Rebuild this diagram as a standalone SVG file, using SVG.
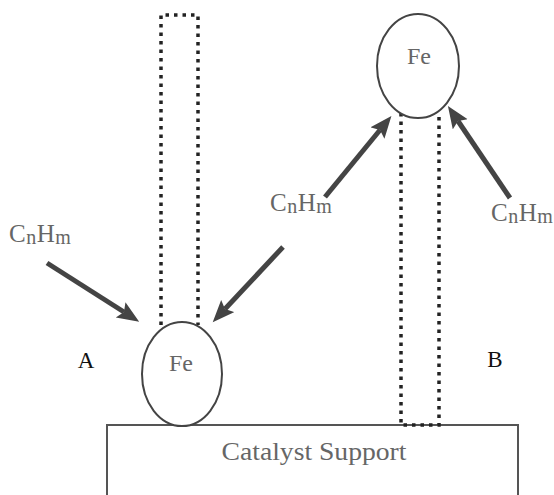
<svg xmlns="http://www.w3.org/2000/svg" width="554" height="495" viewBox="0 0 554 495">
<defs>
<style>
.tube{fill:none;stroke:#222;stroke-width:3.5;stroke-dasharray:3.5 5}
.fe{fill:#fff;stroke:#444;stroke-width:2}
.arrow{fill:none;stroke:#444;stroke-width:5;marker-end:url(#head)}
.lbl{font-family:"Liberation Serif","Times New Roman",serif;fill:#666}
.ab{font-family:"Liberation Serif","Times New Roman",serif;fill:#111;font-size:23px}
.sup{fill:none;stroke:#555;stroke-width:2}
</style>
<marker id="head" markerUnits="userSpaceOnUse" markerWidth="24" markerHeight="20" refX="4" refY="9" orient="auto">
<path d="M0,0 L22,9 L0,18 L4,9 z" fill="#444"/>
</marker>
</defs>
<g id="support">
<rect class="sup" x="107" y="425" width="411" height="90"/>
<text class="lbl" x="314" y="460" font-size="25" text-anchor="middle" textLength="185" lengthAdjust="spacingAndGlyphs">Catalyst Support</text>
</g>
<g id="tubeA">
<path class="tube" d="M161,325 V15 H198 V325"/>
</g>
<g id="tubeB">
<path class="tube" d="M401,113 V425 H439 V113"/>
</g>
<g id="feA">
<ellipse class="fe" cx="182" cy="374" rx="40" ry="52"/>
<text class="lbl" x="181" y="371" font-size="24" text-anchor="middle" fill="#555">Fe</text>
</g>
<g id="feB">
<ellipse class="fe" cx="418" cy="66" rx="41" ry="52"/>
<text class="lbl" x="419" y="64" font-size="24" text-anchor="middle" fill="#555">Fe</text>
</g>
<g id="connectors">
<path class="arrow" d="M47,263 L124,312"/>
<path class="arrow" d="M283,247 L225,309"/>
<path class="arrow" d="M325,197 L380,130"/>
<path class="arrow" d="M510,198 L458,121"/>
</g>
<g id="cnhm1"><text class="lbl" x="9" y="242" font-size="25" letter-spacing="0.5">C<tspan font-size="20" dy="2">n</tspan><tspan dy="-2">H</tspan><tspan font-size="20" dy="2">m</tspan></text></g>
<g id="cnhm2"><text class="lbl" x="270" y="211" font-size="25" letter-spacing="0.5">C<tspan font-size="20" dy="2">n</tspan><tspan dy="-2">H</tspan><tspan font-size="20" dy="2">m</tspan></text></g>
<g id="cnhm3"><text class="lbl" x="491" y="221" font-size="25" letter-spacing="0.5">C<tspan font-size="20" dy="2">n</tspan><tspan dy="-2">H</tspan><tspan font-size="20" dy="2">m</tspan></text></g>
<g id="labelA"><text class="ab" x="86" y="368" text-anchor="middle">A</text></g>
<g id="labelB"><text class="ab" x="495" y="367" text-anchor="middle">B</text></g>
</svg>
